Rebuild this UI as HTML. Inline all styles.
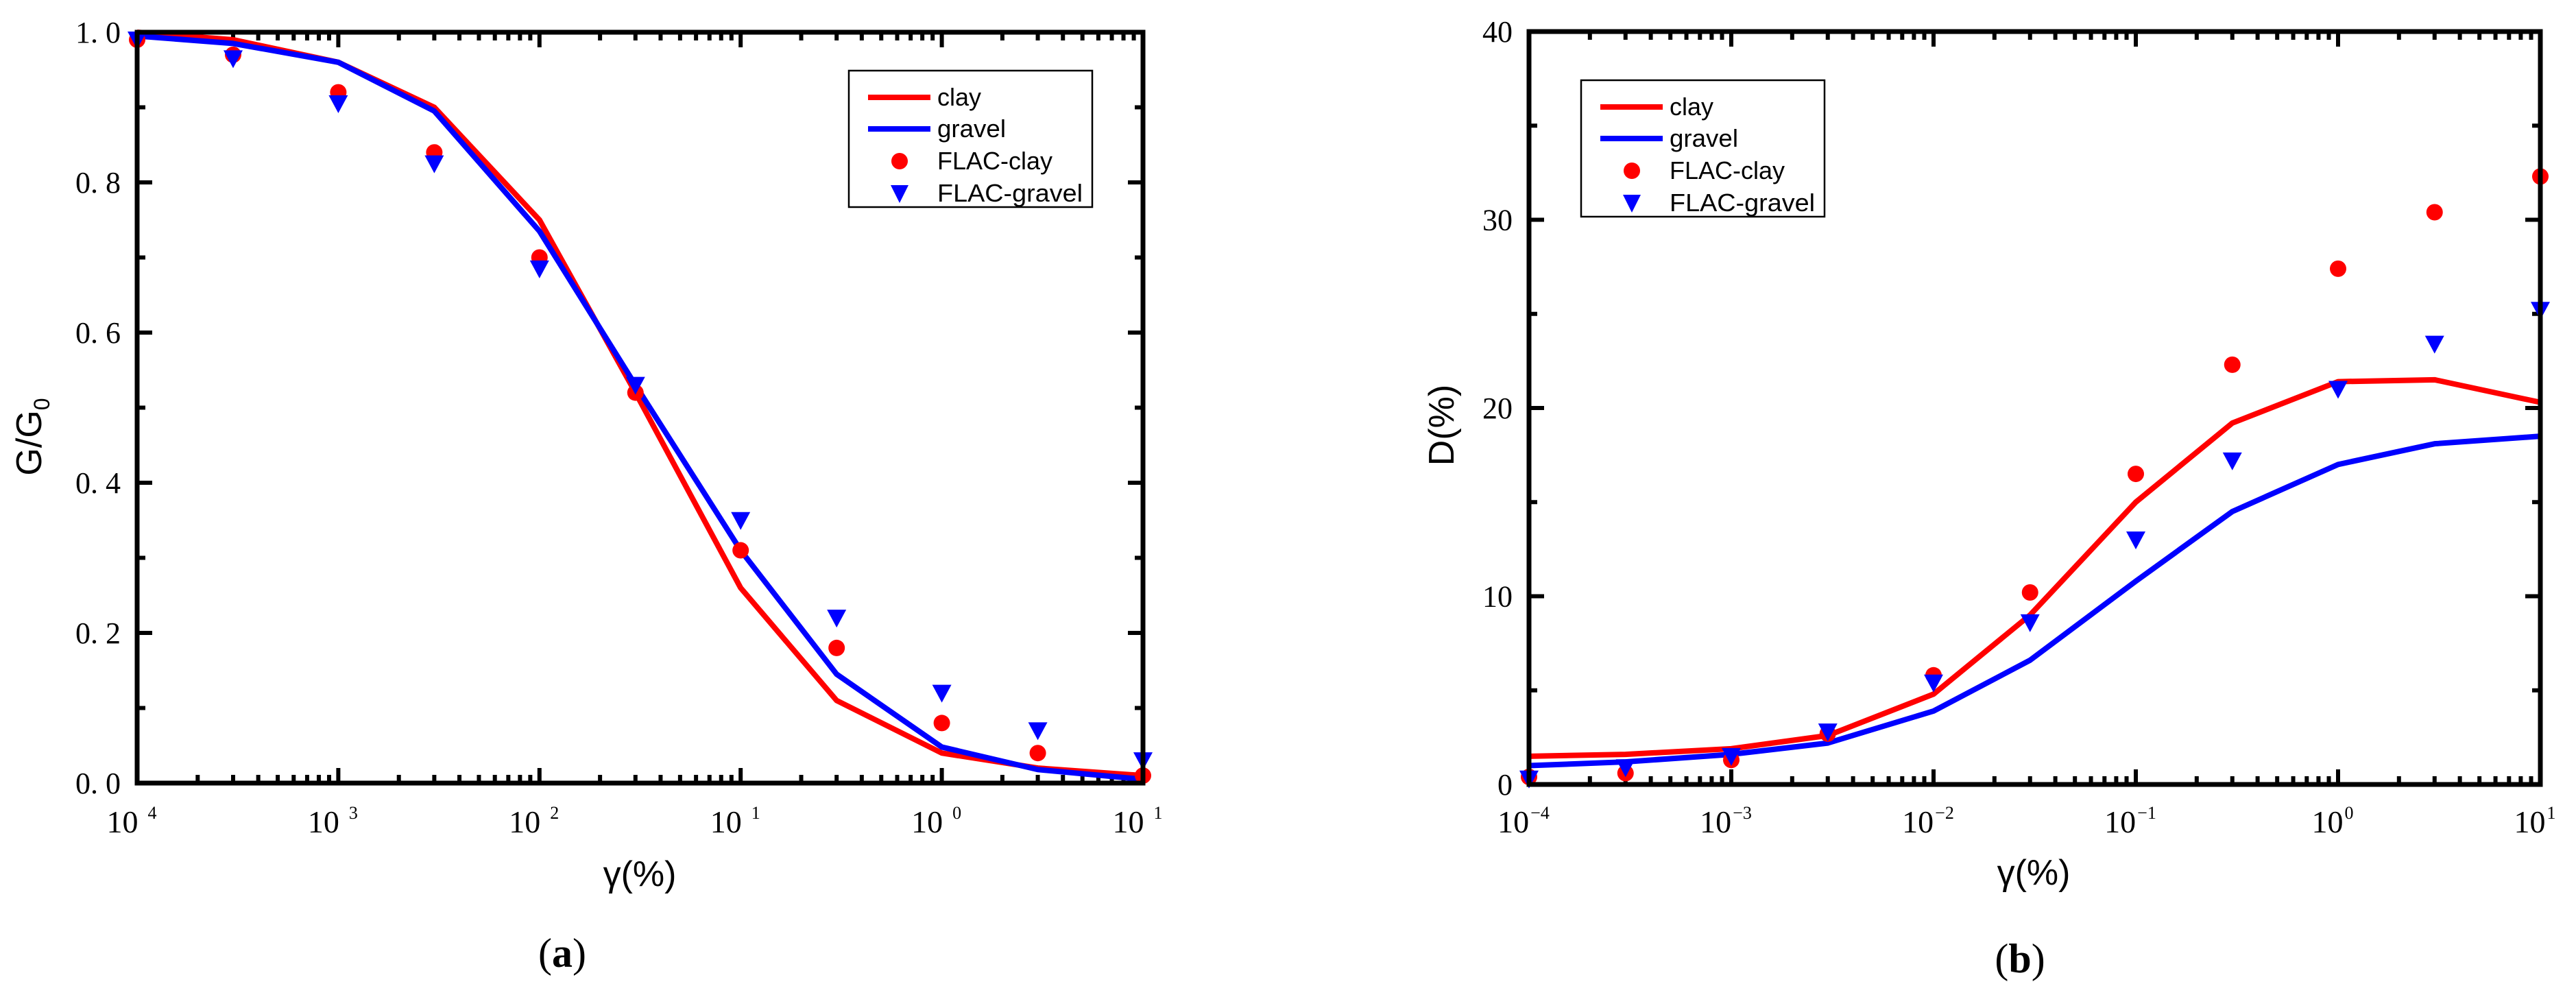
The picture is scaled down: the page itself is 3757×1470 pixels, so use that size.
<!DOCTYPE html>
<html><head><meta charset="utf-8">
<style>
html,body{margin:0;padding:0;background:#fff;}
svg{display:block;}
</style></head>
<body>
<svg id="fig" width="3757" height="1470" viewBox="0 0 3757 1470" xmlns="http://www.w3.org/2000/svg">
<rect width="3757" height="1470" fill="#fff"/>
<g id="chartA"></g>
<g id="chartB"></g>
</svg>
<script>
// Shared x categories (shear strain, %)
const strains = [1e-4, 3e-4, 1e-3, 3e-3, 1e-2, 3e-2, 1e-1, 3e-1, 1, 3, 10];
// Chart (a) G/G0
const aClay = [1.0, 0.99, 0.96, 0.90, 0.75, 0.52, 0.26, 0.11, 0.04, 0.02, 0.01];
const aGravel = [0.995, 0.985, 0.96, 0.895, 0.735, 0.53, 0.31, 0.145, 0.048, 0.018, 0.005];
const aFlacClay = [0.99, 0.97, 0.92, 0.84, 0.70, 0.52, 0.31, 0.18, 0.08, 0.04, 0.01];
const aFlacGravel = [0.99, 0.965, 0.905, 0.825, 0.685, 0.53, 0.35, 0.22, 0.12, 0.07, 0.03];
const aYTicks = [0, 0.2, 0.4, 0.6, 0.8, 1.0];
const aYTickLabels = ["0. 0", "0. 2", "0. 4", "0. 6", "0. 8", "1. 0"];
const aXExp = ["4", "3", "2", "1", "0", "1"];
// Chart (b) D(%)
const bClay = [1.5, 1.6, 1.9, 2.6, 4.8, 9.0, 15.0, 19.2, 21.4, 21.5, 20.3];
const bGravel = [1.0, 1.2, 1.6, 2.2, 3.9, 6.6, 10.8, 14.5, 17.0, 18.1, 18.5];
const bFlacClay = [0.4, 0.6, 1.3, 2.7, 5.8, 10.2, 16.5, 22.3, 27.4, 30.4, 32.3];
const bFlacGravel = [0.3, 0.9, 1.5, 2.8, 5.4, 8.6, 13.0, 17.2, 21.0, 23.4, 25.2];
const bYTicks = [0, 10, 20, 30, 40];
const bYTickLabels = ["0", "10", "20", "30", "40"];
const bXExp = ["\u22124", "\u22123", "\u22122", "\u22121", "0", "1"];

const NS = "http://www.w3.org/2000/svg";
function mk(tag, attrs, parent) {
  const e = document.createElementNS(NS, tag);
  for (const k in attrs) e.setAttribute(k, attrs[k]);
  parent.appendChild(e);
  return e;
}

function drawChart(g, cfg) {
  const L = cfg.L, R = cfg.R, T = cfg.T, B = cfg.B;
  const xs = v => L + (Math.log10(v) + 4) / 5 * (R - L);
  const ys = v => B - (v - cfg.ymin) / (cfg.ymax - cfg.ymin) * (B - T);

  const ticks = mk("g", {}, g);
  
  
  for (let d = -4; d <= 1; d++) {
    for (let m = 1; m <= 9; m++) {
      if (d === 1 && m > 1) break;
      const x = xs(m * Math.pow(10, d));
      const len = m === 1 ? 22 : 12;
      mk("line", {x1: x, x2: x, y1: B, y2: B - len, stroke: "#000", "stroke-width": 6}, ticks);
      mk("line", {x1: x, x2: x, y1: T, y2: T + len, stroke: "#000", "stroke-width": 6}, ticks);
    }
  }
  const ystep = cfg.yminor;
  for (let v = cfg.ymin; v <= cfg.ymax + 1e-9; v += ystep) {
    const y = ys(v);
    const major = cfg.yTicks.some(t => Math.abs(t - v) < 1e-6);
    const len = major ? 22 : 12;
    mk("line", {x1: L, x2: L + len, y1: y, y2: y, stroke: "#000", "stroke-width": 6}, ticks);
    mk("line", {x1: R, x2: R - len, y1: y, y2: y, stroke: "#000", "stroke-width": 6}, ticks);
  }

  cfg.yTicks.forEach((v, i) => {
    const t = mk("text", {x: L - 24, y: ys(v) + 15, "text-anchor": "end", "font-family": "Liberation Serif, serif", "font-size": 44}, g);
    
    
    t.textContent = cfg.yLabels[i];
  });
  cfg.xExp.forEach((ex, i) => {
    const x = xs(Math.pow(10, i - 4));
    const t = mk("text", {x: x - 8, y: cfg.xLabelY, "text-anchor": "middle", "font-family": "Liberation Serif, serif", "font-size": 46}, g);
    
    
    t.textContent = "10";
    const s = mk("tspan", {dx: cfg.expGap, dy: -20, "font-size": 26}, t);
    s.textContent = ex;
  });

  const series = [[cfg.clay, "#ff0000", "clay-line"], [cfg.gravel, "#0000ff", "gravel-line"]];
  series.forEach(([arr, col, nm]) => {
    const pts = arr.map((v, i) => xs(strains[i]) + "," + ys(v)).join(" ");
    const p = mk("polyline", {points: pts, fill: "none", stroke: col, "stroke-width": 8, "stroke-linejoin": "round"}, g);
    
    
  });
  cfg.flacClay.forEach((v, i) => {
    const c = mk("circle", {cx: xs(strains[i]), cy: ys(v), r: 12, fill: "#ff0000"}, g);
    
    
  });
  cfg.flacGravel.forEach((v, i) => {
    const x = xs(strains[i]), y = ys(v);
    const p = mk("polygon", {points: (x - 14) + "," + (y - 12) + " " + (x + 14) + "," + (y - 12) + " " + x + "," + (y + 14), fill: "#0000ff"}, g);
    
    
  });

  const fr = mk("rect", {x: L, y: T, width: R - L, height: B - T, fill: "none", stroke: "#000", "stroke-width": 7}, g);
  
  

  const lg = mk("g", {}, g);
  
  
  const lx = cfg.legX, ly = cfg.legY;
  mk("rect", {x: lx, y: ly, width: 355, height: 199, fill: "#fff", stroke: "#000", "stroke-width": 2.5}, lg);
  const rows = [["clay", 39], ["gravel", 85], ["FLAC-clay", 132], ["FLAC-gravel", 179]];
  const widths = [64, 100, 168, 212];
  rows.forEach(([name, dy], i) => {
    const y = ly + dy;
    const e = mk("g", {}, lg);
    
    
    if (i === 0) mk("line", {x1: lx + 28, x2: lx + 119, y1: y, y2: y, stroke: "#ff0000", "stroke-width": 8}, e);
    if (i === 1) mk("line", {x1: lx + 28, x2: lx + 119, y1: y, y2: y, stroke: "#0000ff", "stroke-width": 8}, e);
    if (i === 2) mk("circle", {cx: lx + 74, cy: y, r: 12, fill: "#ff0000"}, e);
    if (i === 3) mk("polygon", {points: (lx + 61) + "," + (y - 12) + " " + (lx + 87) + "," + (y - 12) + " " + (lx + 74) + "," + (y + 14), fill: "#0000ff"}, e);
    const t = mk("text", {x: lx + 129, y: y + 12, "font-family": "Liberation Sans, sans-serif", "font-size": 36, textLength: widths[i], lengthAdjust: "spacingAndGlyphs"}, e);
    t.textContent = name;
  });
}

const gA = document.getElementById("chartA");
drawChart(gA, {L: 200, R: 1667, T: 47, B: 1142, ymin: 0, ymax: 1, yminor: 0.1,
  yTicks: aYTicks, yLabels: aYTickLabels, xExp: aXExp, xLabelY: 1214, expGap: 14,
  clay: aClay, gravel: aGravel, flacClay: aFlacClay, flacGravel: aFlacGravel,
  legX: 1238, legY: 103});
const gB = document.getElementById("chartB");
drawChart(gB, {L: 2230, R: 3705, T: 46, B: 1144, ymin: 0, ymax: 40, yminor: 5,
  yTicks: bYTicks, yLabels: bYTickLabels, xExp: bXExp, xLabelY: 1214, expGap: 2,
  clay: bClay, gravel: bGravel, flacClay: bFlacClay, flacGravel: bFlacGravel,
  legX: 2306, legY: 117});

function txt(attrs, s, name) {
  const t = mk("text", attrs, document.getElementById("fig"));
  
  
  t.textContent = s;
  return t;
}
const ya = txt({x: 0, y: 0, transform: "translate(60,637) rotate(-90)", "text-anchor": "middle", "font-family": "Liberation Sans, sans-serif", "font-size": 52}, "G/G", "y-axis-title-a");
const sub = mk("tspan", {dy: 12, "font-size": 32}, ya); sub.textContent = "0";
txt({x: 933, y: 1292, "text-anchor": "middle", "font-family": "Liberation Sans, sans-serif", "font-size": 52}, "\u03b3(%)", "x-axis-title-a");
const ca = txt({x: 820, y: 1410, "text-anchor": "middle", "font-family": "Liberation Serif, serif", "font-size": 60}, "(", "caption-a");
const cab = mk("tspan", {"font-weight": "bold"}, ca); cab.textContent = "a";
const cac = mk("tspan", {}, ca); cac.textContent = ")";
txt({x: 0, y: 0, transform: "translate(2120,620) rotate(-90)", "text-anchor": "middle", "font-family": "Liberation Sans, sans-serif", "font-size": 52}, "D(%)", "y-axis-title-b");
txt({x: 2966, y: 1290, "text-anchor": "middle", "font-family": "Liberation Sans, sans-serif", "font-size": 52}, "\u03b3(%)", "x-axis-title-b");
const cb = txt({x: 2946, y: 1418, "text-anchor": "middle", "font-family": "Liberation Serif, serif", "font-size": 60}, "(", "caption-b");
const cbb = mk("tspan", {"font-weight": "bold"}, cb); cbb.textContent = "b";
const cbc = mk("tspan", {}, cb); cbc.textContent = ")";
</script>
</body></html>
